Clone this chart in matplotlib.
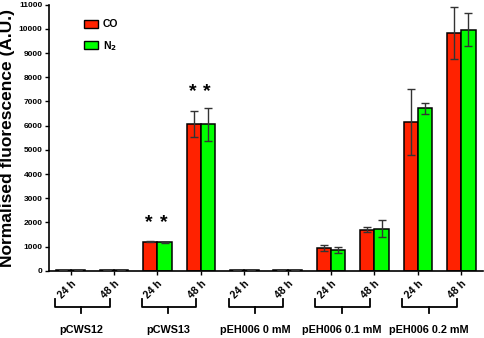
import matplotlib
matplotlib.use("Agg")
import matplotlib.pyplot as plt
import numpy as np
from matplotlib.transforms import blended_transform_factory
from matplotlib.patches import Patch

plt.rcParams['font.family'] = ['Liberation Sans', 'DejaVu Sans']
plt.rcParams['font.weight'] = 'bold'

groups = ["pCWS12", "pCWS13", "pEH006 0 mM", "pEH006 0.1 mM", "pEH006 0.2 mM"]
times = ["24 h", "48 h"] * 5
co_vals = [10, 20, 1200, 6070, 15, 20, 930, 1700, 6150, 9820]
co_err = [0, 0, 30, 540, 0, 0, 130, 100, 1370, 1080]
n2_vals = [15, 25, 1180, 6050, 15, 20, 860, 1740, 6720, 9970]
n2_err = [0, 0, 25, 680, 0, 0, 120, 350, 220, 680]
yticks = list(range(0, 11001, 1000))

red = '#FF2200'
green = '#00FF00'

fig = plt.figure(figsize=(4.84, 3.38), dpi=100)
ax = fig.add_axes([0.101, 0.199, 0.897, 0.787])

x = np.arange(len(times))
w = 0.33
ax.bar(x - w/2, co_vals, w, color=red, edgecolor='black', linewidth=1.1, zorder=2)
ax.bar(x + w/2, n2_vals, w, color=green, edgecolor='black', linewidth=1.1, zorder=2)
ax.errorbar(x - w/2, co_vals, yerr=co_err, fmt='none', ecolor='#333333', elinewidth=1, capsize=3, capthick=1, zorder=3)
ax.errorbar(x + w/2, n2_vals, yerr=n2_err, fmt='none', ecolor='#333333', elinewidth=1, capsize=3, capthick=1, zorder=3)

# asterisks
for i, yv in [(2, 2000), (3, 7400)]:
    for off in (-w/2, w/2):
        ax.text(i + off - 0.03, yv, '*', ha='center', va='center', fontsize=14, fontweight='bold')

ax.set_xlim(-0.5, 9.5)
ax.set_ylim(0, 11000)
ax.set_yticks(yticks)
ax.set_yticklabels([str(v) for v in yticks], fontsize=6, fontweight='bold')
ax.set_xticks(x)
ax.set_xticklabels(times, rotation=45, ha='right', rotation_mode='anchor', fontsize=7.5, fontweight='bold')
ax.tick_params(axis='both', length=3, width=1, direction='out', pad=1.5)
ax.tick_params(axis='x', pad=3)
for s in ['top', 'right']:
    ax.spines[s].set_visible(False)
for s in ['left', 'bottom']:
    ax.spines[s].set_linewidth(1.2)

ax.set_ylabel('Normalised fluorescence (A.U.)', fontsize=12.5, fontweight='bold', labelpad=3)

tr = blended_transform_factory(ax.transData, ax.transAxes)
for g, name in enumerate(groups):
    i = 2 * g
    x0, x1 = i - 0.36, i + 0.9
    xm = i + 0.25
    ax.plot([x0, x0, x1, x1], [-0.106, -0.135, -0.135, -0.106], color='black', lw=1.3, transform=tr, clip_on=False)
    ax.plot([xm, xm], [-0.135, -0.16], color='black', lw=1.3, transform=tr, clip_on=False)
    ax.text(xm, -0.223, name, ha='center', va='center', fontsize=7.8, fontweight='bold', transform=tr)

handles = [Patch(facecolor=red, edgecolor='black', linewidth=1), Patch(facecolor=green, edgecolor='black', linewidth=1)]
ax.legend(handles, ['CO', 'N$_\\mathbf{2}$'], loc='upper left', bbox_to_anchor=(0.06, 0.98), frameon=False,
          fontsize=7.5, handlelength=1.3, handleheight=0.8, labelspacing=0.9, handletextpad=0.5)

fig.savefig('out.png', dpi=100)
